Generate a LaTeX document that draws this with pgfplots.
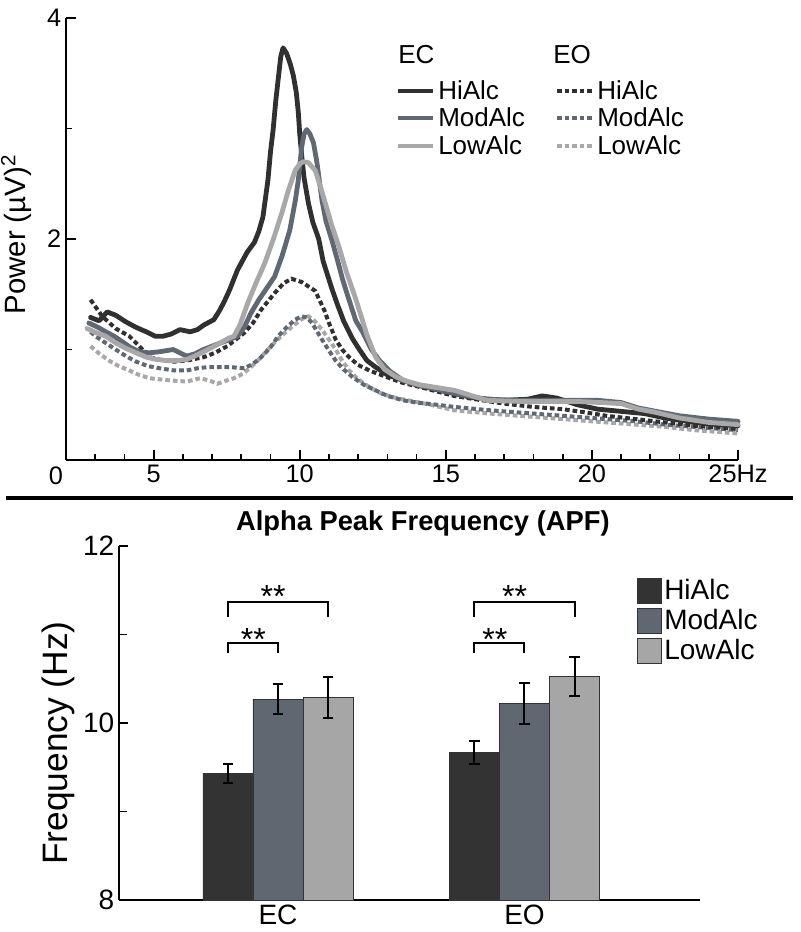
\documentclass[border=0pt]{standalone}
\usepackage{fontspec}
\setmainfont{Liberation Sans}
\usepackage{pgfplots}
\pgfplotsset{compat=1.18}
\definecolor{hiC}{HTML}{303030}
\definecolor{modC}{HTML}{5E6974}
\definecolor{lowC}{HTML}{A8A8A8}
\definecolor{hiB}{HTML}{333333}
\definecolor{modB}{HTML}{5F6770}
\definecolor{lowB}{HTML}{A6A6A6}
\tikzset{
  solidc/.style={line width=3.6pt, line join=round, line cap=round},
  dashc/.style={line width=3pt, dash pattern=on 3.5pt off 2.2pt},
}
\begin{document}
\begin{tikzpicture}[x=0.75pt,y=0.75pt]
\useasboundingbox (0,0) rectangle (800,932);
% ---------------- top panel ----------------
\begin{axis}[
  at={(49.5pt,354pt)}, anchor=south west,
  scale only axis, width=504pt, height=331.5pt,
  xmin=2, xmax=25, ymin=0, ymax=4,
  axis x line*=bottom, axis y line*=left,
  axis line style={line width=1.5pt},
  tick align=inside,
  xtick={5,10,15,20,25}, xticklabels={5,10,15,20,25Hz},
  minor xtick={3,4,6,7,8,9,11,12,13,14,16,17,18,19,21,22,23,24},
  ytick={2,4}, minor ytick={1,3},
  major tick length=7.5pt, minor tick length=4.5pt,
  tick style={line width=1.3pt, black},
  ticklabel style={font=\fontsize{19}{22}\selectfont},
  /pgf/number format/assume math mode=true,
  clip=false,
  ylabel={Power (µV)\textsuperscript{2}},
  ylabel style={at={(axis description cs:-0.074,0.51)}, anchor=center, inner sep=0pt, font=\fontsize{22}{25}\selectfont},
]
% EO dashed
\addplot[dashc, color=lowC] coordinates {
(2.84,1.03)(3.15,0.96)(3.47,0.90)(3.8,0.85)(4.17,0.81)(4.5,0.77)(4.86,0.74)(5.2,0.73)(5.56,0.72)(6.13,0.71)(6.6,0.74)(6.9,0.72)(7.18,0.69)(7.5,0.72)(7.75,0.74)(8.05,0.78)(8.33,0.84)(8.6,0.91)(8.91,1.0)(9.2,1.08)(9.49,1.15)(9.75,1.21)(9.95,1.25)(10.15,1.29)(10.3,1.30)(10.5,1.26)(10.76,1.18)(11.0,1.09)(11.23,1.0)(11.45,0.90)(11.69,0.81)(12.0,0.73)(12.38,0.66)(12.8,0.60)(13.31,0.56)(13.9,0.53)(14.47,0.50)(15.28,0.45)(16.5,0.42)(18.0,0.39)(19.5,0.36)(20.5,0.34)(21.5,0.32)(22.5,0.30)(23.5,0.27)(25.0,0.24)};
\addplot[dashc, color=modC] coordinates {
(2.84,1.16)(3.01,1.12)(3.35,1.06)(3.7,1.0)(4.05,0.94)(4.4,0.89)(4.8,0.85)(5.21,0.83)(5.7,0.81)(6.13,0.81)(6.5,0.83)(6.83,0.84)(7.25,0.84)(7.64,0.84)(8.1,0.83)(8.4,0.87)(8.68,0.93)(9.0,1.02)(9.26,1.12)(9.55,1.20)(9.84,1.27)(10.07,1.30)(10.25,1.29)(10.42,1.24)(10.6,1.16)(10.76,1.09)(11.0,0.99)(11.23,0.90)(11.5,0.82)(11.81,0.75)(12.2,0.68)(12.6,0.63)(13.0,0.58)(13.54,0.54)(14.0,0.52)(14.7,0.50)(15.3,0.48)(16.5,0.45)(18.0,0.42)(19.5,0.39)(20.5,0.37)(21.5,0.35)(22.5,0.32)(23.5,0.30)(25.0,0.27)};
\addplot[dashc, color=hiC] coordinates {
(2.84,1.45)(3.24,1.30)(3.7,1.19)(4.17,1.12)(4.51,1.03)(4.86,0.93)(5.32,0.90)(5.7,0.89)(6.13,0.90)(6.71,0.93)(7.1,0.97)(7.52,1.03)(8.1,1.15)(8.4,1.24)(8.68,1.36)(9.14,1.51)(9.45,1.60)(9.72,1.64)(10.07,1.61)(10.3,1.57)(10.53,1.53)(10.85,1.35)(11.0,1.24)(11.23,1.09)(11.45,1.0)(11.69,0.93)(12.0,0.86)(12.38,0.81)(13.08,0.74)(13.5,0.70)(14.12,0.66)(14.7,0.62)(15.28,0.58)(16.0,0.55)(17.0,0.51)(18.0,0.48)(19.0,0.46)(19.8,0.43)(20.5,0.40)(21.5,0.37)(22.5,0.34)(23.5,0.31)(25.0,0.28)};
% EC solid
\addplot[solidc, color=hiC] coordinates {
(2.84,1.29)(3.13,1.26)(3.41,1.34)(3.7,1.31)(4.05,1.25)(4.4,1.20)(4.75,1.16)(5.05,1.12)(5.32,1.12)(5.6,1.14)(5.9,1.18)(6.25,1.16)(6.5,1.18)(6.71,1.22)(7.06,1.27)(7.25,1.35)(7.41,1.43)(7.6,1.54)(7.87,1.72)(8.2,1.88)(8.45,1.97)(8.6,2.07)(8.74,2.20)(8.91,2.53)(9.0,2.79)(9.09,2.99)(9.18,3.25)(9.26,3.44)(9.35,3.65)(9.43,3.73)(9.55,3.68)(9.68,3.58)(9.78,3.48)(9.88,3.33)(9.95,3.15)(10.0,2.95)(10.08,2.72)(10.15,2.55)(10.3,2.32)(10.45,2.15)(10.65,2.0)(10.8,1.80)(11.1,1.55)(11.3,1.40)(11.5,1.26)(11.8,1.10)(12.04,1.0)(12.3,0.90)(12.6,0.84)(13.0,0.77)(13.54,0.72)(14.0,0.68)(14.47,0.65)(15.3,0.60)(16.0,0.56)(17.0,0.54)(17.8,0.55)(18.3,0.58)(18.8,0.56)(19.5,0.50)(20.2,0.46)(21.0,0.44)(21.8,0.42)(22.5,0.38)(23.5,0.34)(24.3,0.32)(25.0,0.31)};
\addplot[solidc, color=modC] coordinates {
(2.78,1.24)(3.1,1.20)(3.36,1.16)(3.65,1.12)(3.93,1.07)(4.2,1.02)(4.51,0.98)(4.85,0.97)(5.21,0.98)(5.45,0.99)(5.67,1.0)(5.9,0.97)(6.13,0.94)(6.4,0.96)(6.71,1.0)(7.0,1.03)(7.29,1.06)(7.6,1.09)(7.87,1.12)(8.1,1.20)(8.33,1.33)(8.6,1.45)(8.91,1.57)(9.14,1.66)(9.4,1.85)(9.66,2.08)(9.85,2.35)(9.95,2.53)(10.07,2.84)(10.15,2.95)(10.24,2.99)(10.35,2.95)(10.47,2.87)(10.59,2.69)(10.76,2.35)(10.9,2.16)(11.11,1.98)(11.3,1.80)(11.46,1.64)(11.6,1.52)(11.92,1.26)(12.15,1.16)(12.45,1.0)(12.73,0.90)(13.1,0.80)(13.54,0.72)(14.0,0.68)(14.7,0.64)(15.5,0.59)(16.4,0.55)(17.5,0.54)(18.75,0.54)(19.5,0.54)(20.2,0.54)(21.0,0.52)(21.6,0.47)(22.2,0.44)(23.0,0.40)(24.0,0.37)(25.0,0.35)};
\addplot[solidc, color=lowC] coordinates {
(2.72,1.19)(3.05,1.15)(3.36,1.12)(3.7,1.06)(4.05,1.01)(4.4,0.97)(4.75,0.93)(5.1,0.91)(5.44,0.90)(5.8,0.90)(6.13,0.91)(6.4,0.94)(6.71,0.98)(7.0,1.02)(7.29,1.06)(7.55,1.10)(7.75,1.12)(7.95,1.22)(8.22,1.42)(8.5,1.60)(8.8,1.78)(9.1,2.0)(9.38,2.23)(9.6,2.43)(9.84,2.62)(10.0,2.68)(10.13,2.70)(10.3,2.69)(10.53,2.62)(10.7,2.48)(10.88,2.32)(11.1,2.12)(11.34,1.93)(11.6,1.70)(11.81,1.54)(11.95,1.43)(12.15,1.26)(12.3,1.13)(12.6,0.93)(12.9,0.82)(13.31,0.75)(13.7,0.71)(14.12,0.68)(15.3,0.63)(16.4,0.54)(17.5,0.53)(18.75,0.53)(19.5,0.53)(20.3,0.52)(21.0,0.51)(21.6,0.46)(22.2,0.43)(23.0,0.38)(24.0,0.34)(25.0,0.32)};
\end{axis}
\node[font=\fontsize{19}{22}\selectfont] at (56,456) {0};
% top legend
\begin{scope}[font=\fontsize{19.5}{22}\selectfont]
\node[anchor=base west, inner sep=0pt] at (398,868) {EC};
\node[anchor=base west, inner sep=0pt] at (553,868) {EO};
\draw[line width=3.6pt, hiC] (398,841) -- (433,841);
\draw[line width=3.6pt, modC] (398,814) -- (433,814);
\draw[line width=3.6pt, lowC] (398,786) -- (433,786);
\node[anchor=base west, inner sep=0pt] at (438,832) {HiAlc};
\node[anchor=base west, inner sep=0pt] at (438,805) {ModAlc};
\node[anchor=base west, inner sep=0pt] at (438,777) {LowAlc};
\draw[dashc, hiC] (557,841) -- (592,841);
\draw[dashc, modC] (557,814) -- (592,814);
\draw[dashc, lowC] (557,786) -- (592,786);
\node[anchor=base west, inner sep=0pt] at (597,832) {HiAlc};
\node[anchor=base west, inner sep=0pt] at (597,805) {ModAlc};
\node[anchor=base west, inner sep=0pt] at (597,777) {LowAlc};
\end{scope}
% separator
\draw[line width=2.4pt] (6,434) -- (793,434);
% ---------------- bottom panel ----------------
\begin{axis}[
  at={(89.25pt,24pt)}, anchor=south west,
  scale only axis, width=435.75pt, height=265.5pt,
  xmin=0.355, xmax=2.712, ymin=8, ymax=12,
  axis x line*=bottom, axis y line*=left,
  axis line style={line width=1.5pt},
  xtick={1,2}, xticklabels={EC,EO}, major x tick style={draw=none},
  ytick={8,10,12}, minor ytick={9,11}, tick align=inside,
  major tick length=7pt, minor tick length=6pt,
  tick style={line width=1.3pt, black},
  ticklabel style={font=\fontsize{21}{24}\selectfont},
  /pgf/number format/assume math mode=true,
  title={Alpha Peak Frequency (APF)},
  title style={at={(axis description cs:0.523,1.04)}, anchor=center, font=\bfseries\fontsize{20.5}{24}\selectfont},
  ylabel={Frequency (Hz)},
  ylabel style={at={(axis description cs:-0.105,0.443)}, anchor=center, inner sep=0pt, font=\fontsize{26.5}{30}\selectfont},
]
\addplot[ybar, bar width=0.203, bar shift=0pt, fill=hiB, draw=black!80, line width=0.6pt,
  error bars/.cd, y dir=both, y explicit,
  error bar style={line width=1.5pt, black},
  error mark options={rotate=90, mark size=4pt, line width=1.5pt, black}]
  coordinates {(0.797,9.43) +- (0,0.11) (1.797,9.67) +- (0,0.13)};
\addplot[ybar, bar width=0.203, bar shift=0pt, fill=modB, draw=black!80, line width=0.6pt,
  error bars/.cd, y dir=both, y explicit,
  error bar style={line width=1.5pt, black},
  error mark options={rotate=90, mark size=4pt, line width=1.5pt, black}]
  coordinates {(1.0,10.27) +- (0,0.17) (2.0,10.22) +- (0,0.23)};
\addplot[ybar, bar width=0.203, bar shift=0pt, fill=lowB, draw=black!80, line width=0.6pt,
  error bars/.cd, y dir=both, y explicit,
  error bar style={line width=1.5pt, black},
  error mark options={rotate=90, mark size=4pt, line width=1.5pt, black}]
  coordinates {(1.203,10.29) +- (0,0.23) (2.203,10.53) +- (0,0.22)};
% significance brackets
\draw[line width=1.5pt] (axis cs:0.797,11.2) -- (axis cs:0.797,11.37) -- (axis cs:1.203,11.37) -- (axis cs:1.203,11.2);
\draw[line width=1.5pt] (axis cs:0.797,10.79) -- (axis cs:0.797,10.9) -- (axis cs:1.0,10.9) -- (axis cs:1.0,10.79);
\draw[line width=1.5pt] (axis cs:1.797,11.2) -- (axis cs:1.797,11.37) -- (axis cs:2.203,11.37) -- (axis cs:2.203,11.2);
\draw[line width=1.5pt] (axis cs:1.797,10.79) -- (axis cs:1.797,10.9) -- (axis cs:2.0,10.9) -- (axis cs:2.0,10.79);
\node[anchor=base, font=\fontsize{24}{26}\selectfont] at (axis cs:0.98,11.30) {**};
\node[anchor=base, font=\fontsize{24}{26}\selectfont] at (axis cs:0.9,10.82) {**};
\node[anchor=base, font=\fontsize{24}{26}\selectfont] at (axis cs:1.96,11.30) {**};
\node[anchor=base, font=\fontsize{24}{26}\selectfont] at (axis cs:1.88,10.82) {**};
\end{axis}
% bottom legend
\begin{scope}[font=\fontsize{21}{24}\selectfont]
\filldraw[fill=hiB, draw=black!80, line width=0.6pt] (637,354) rectangle (661,329);
\filldraw[fill=modB, draw=black!80, line width=0.6pt] (637,324) rectangle (661,299);
\filldraw[fill=lowB, draw=black!80, line width=0.6pt] (637,294) rectangle (661,269);
\node[anchor=base west, inner sep=0pt] at (664,332) {HiAlc};
\node[anchor=base west, inner sep=0pt] at (664,302) {ModAlc};
\node[anchor=base west, inner sep=0pt] at (664,272) {LowAlc};
\end{scope}
\end{tikzpicture}
\end{document}
